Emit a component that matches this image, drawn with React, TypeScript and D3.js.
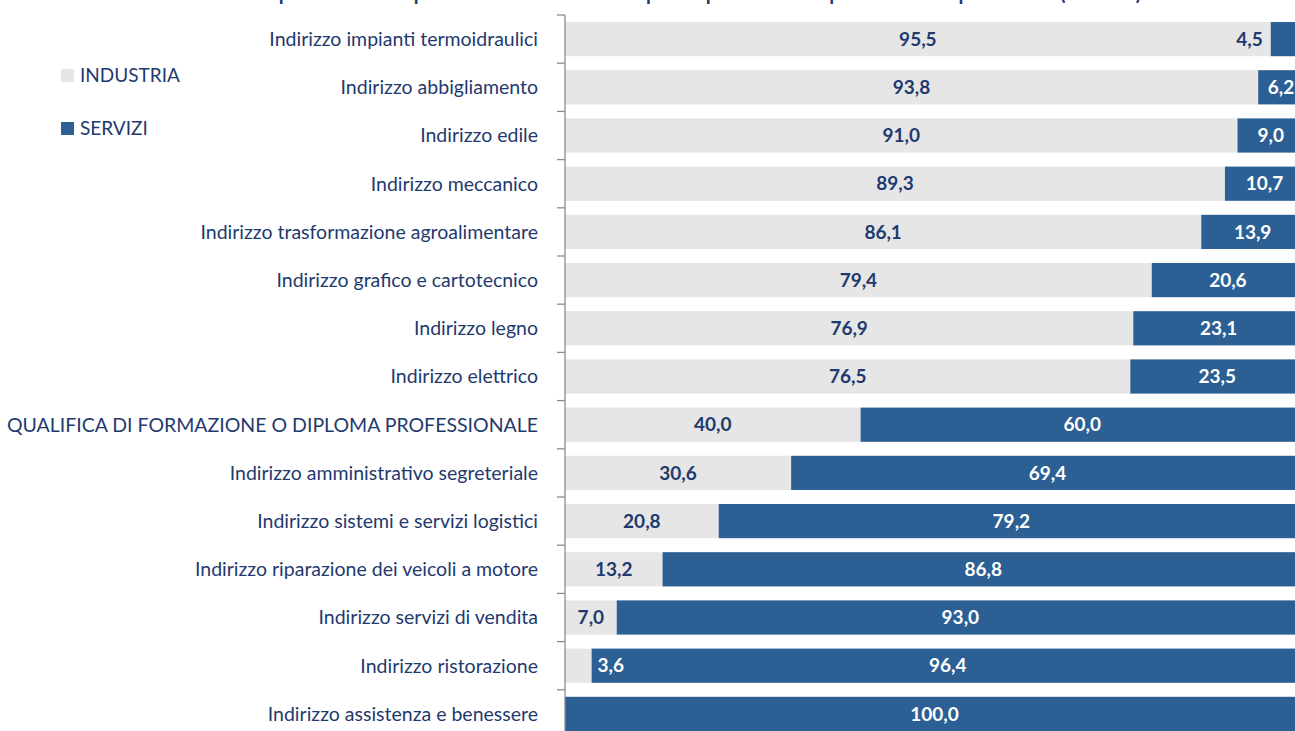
import React, { useEffect, useRef } from 'react';
import * as d3 from 'd3';

// categories, top to bottom
const categories = [
  'Indirizzo impianti termoidraulici',
  'Indirizzo abbigliamento',
  'Indirizzo edile',
  'Indirizzo meccanico',
  'Indirizzo trasformazione agroalimentare',
  'Indirizzo grafico e cartotecnico',
  'Indirizzo legno',
  'Indirizzo elettrico',
  'QUALIFICA DI FORMAZIONE O DIPLOMA PROFESSIONALE',
  'Indirizzo amministrativo segreteriale',
  'Indirizzo sistemi e servizi logistici',
  'Indirizzo riparazione dei veicoli a motore',
  'Indirizzo servizi di vendita',
  'Indirizzo ristorazione',
  'Indirizzo assistenza e benessere',
];

const industria = [95.5, 93.8, 91.0, 89.3, 86.1, 79.4, 76.9, 76.5, 40.0, 30.6, 20.8, 13.2, 7.0, 3.6, 0];
const servizi = [4.5, 6.2, 9.0, 10.7, 13.9, 20.6, 23.1, 23.5, 60.0, 69.4, 79.2, 86.8, 93.0, 96.4, 100.0];

const seriesNames = ['INDUSTRIA', 'SERVIZI'];

const title =
  'Entrate potenziali con qualifica di formazione o diploma professionale per indirizzo e per settore (valori %)';

const GREY = '#e6e6e6';
const BLUE = '#2c5f94';
const NAVY = '#1f3a6e';
const FONT = 'Lato, "Open Sans", sans-serif';

const App = () => {
  const svgRef = useRef<SVGSVGElement>(null);

  useEffect(() => {
    const width = 1295;
    const height = 731;
    const svg = d3.select(svgRef.current);
    svg.selectAll('*').remove();
    svg.attr('width', width).attr('height', height);

    const x = d3.scaleLinear().domain([0, 100]).range([565, 1304]);
    const y = d3.scaleBand().domain(categories).range([15, 738]).paddingInner(0.29).paddingOuter(0.145);

    // title, mostly cropped above the picture as in the source
    svg.append('text')
      .attr('x', 675)
      .attr('y', 0)
      .attr('text-anchor', 'middle')
      .attr('font-family', FONT)
      .attr('font-weight', 'bold')
      .attr('font-size', 20)
      .attr('fill', NAVY)
      .text(title);

    const rows = categories.map((c, i) => ({ c, ind: industria[i], ser: servizi[i] }));

    // industria bars
    svg.selectAll('.ind')
      .data(rows)
      .enter().append('rect')
      .attr('x', x(0))
      .attr('y', d => y(d.c)!)
      .attr('width', d => x(d.ind) - x(0))
      .attr('height', y.bandwidth())
      .attr('fill', GREY);

    // servizi bars
    svg.selectAll('.ser')
      .data(rows)
      .enter().append('rect')
      .attr('x', d => x(d.ind))
      .attr('y', d => y(d.c)!)
      .attr('width', d => x(d.ind + d.ser) - x(d.ind))
      .attr('height', y.bandwidth())
      .attr('fill', BLUE);

    const fmt = (v: number) => v.toFixed(1).replace('.', ',');
    const labels = svg.append('g')
      .attr('font-family', FONT)
      .attr('font-weight', 'bold')
      .attr('font-size', 19);

    rows.forEach(d => {
      const cy = y(d.c)! + y.bandwidth() / 2;
      if (d.ind > 0) {
        const small = d.ind < 5;
        labels.append('text')
          .attr('x', small ? x(d.ind) + 6 : (x(0) + x(d.ind)) / 2)
          .attr('y', cy)
          .attr('dy', '0.35em')
          .attr('text-anchor', small ? 'start' : 'middle')
          .attr('fill', small ? '#fff' : NAVY)
          .text(fmt(d.ind));
      }
      if (d.ser > 0) {
        const small = d.ser < 5;
        labels.append('text')
          .attr('x', small ? x(d.ind) - 8 : (x(d.ind) + x(d.ind + d.ser)) / 2)
          .attr('y', cy)
          .attr('dy', '0.35em')
          .attr('text-anchor', small ? 'end' : 'middle')
          .attr('fill', small ? NAVY : '#fff')
          .text(fmt(d.ser));
      }
    });

    // category axis
    const step = y.step();
    const ticks = categories.map((c, i) => 15 + i * step);
    ticks.push(738);
    const axis = svg.append('g').attr('stroke', '#8c8c8c').attr('stroke-width', 1.3);
    axis.append('line').attr('x1', 565).attr('x2', 565).attr('y1', 15).attr('y2', 738);
    ticks.forEach(t => {
      axis.append('line').attr('x1', 557).attr('x2', 565).attr('y1', t).attr('y2', t);
    });

    svg.append('g')
      .selectAll('text')
      .data(categories)
      .enter().append('text')
      .attr('x', 538)
      .attr('y', d => y(d)! + y.bandwidth() / 2)
      .attr('dy', '0.35em')
      .attr('text-anchor', 'end')
      .attr('font-family', FONT)
      .attr('font-size', 19.5)
      .attr('fill', NAVY)
      .text(d => d);

    // legend
    const legend = svg.append('g');
    seriesNames.forEach((s, i) => {
      const ly = 75 + i * 53;
      legend.append('rect')
        .attr('x', 61).attr('y', ly - 6).attr('width', 13).attr('height', 13)
        .attr('fill', i === 0 ? GREY : BLUE);
      legend.append('text')
        .attr('x', 80).attr('y', ly)
        .attr('dy', '0.35em')
        .attr('font-family', FONT)
        .attr('font-size', 19)
        .attr('fill', NAVY)
        .text(s);
    });
  }, []);

  return (
    <div style={{ position: 'absolute', left: 0, top: 0, width: 1295, height: 731, overflow: 'hidden', background: '#fff' }}>
      <svg ref={svgRef} style={{ display: 'block' }}></svg>
    </div>
  );
};

export default App;
